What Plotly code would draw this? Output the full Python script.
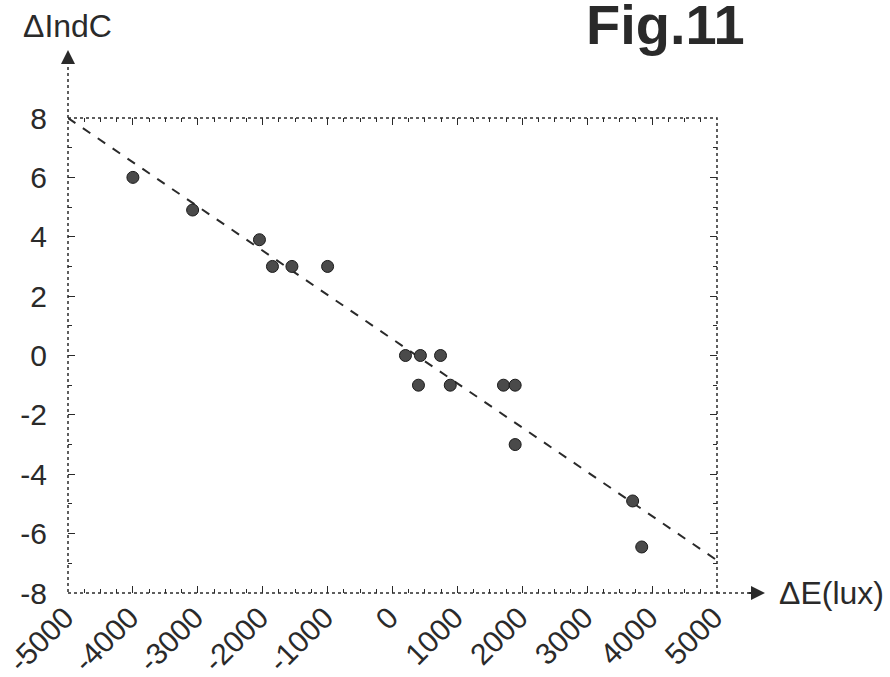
import plotly.graph_objects as go

# ---- data ----
delta_e = [-4000, -3080, -2050, -1850, -1550, -1000, 200, 430, 400, 740, 890,
           1710, 1890, 1890, 3700, 3840]
delta_indc = [6.0, 4.9, 3.9, 3.0, 3.0, 3.0, 0.0, 0.0, -1.0, 0.0, -1.0,
              -1.0, -1.0, -3.0, -4.9, -6.45]
fit_x = [-5000, 5000]
fit_y = [8.0, -6.9]

x_tickvals = [-5000, -4000, -3000, -2000, -1000, 0, 1000, 2000, 3000, 4000, 5000]
x_ticktext = ["-5000", "-4000", "-3000", "-2000", "-1000", "0", "1000", "2000",
              "3000", "4000", "5000"]
y_tickvals = [8, 6, 4, 2, 0, -2, -4, -6, -8]
y_ticktext = ["8", "6", "4", "2", "0", "-2", "-4", "-6", "-8"]

INK = "#2a2a2a"
FONT = "Liberation Sans, Arial, sans-serif"

fig = go.Figure()
fig.add_trace(go.Scatter(x=fit_x, y=fit_y, mode="lines",
                         line=dict(color=INK, width=2, dash="dash"),
                         showlegend=False, hoverinfo="skip"))
fig.add_trace(go.Scatter(x=delta_e, y=delta_indc, mode="markers",
                         marker=dict(size=12, color="#4a4a4a",
                                     line=dict(color="#1a1a1a", width=1)),
                         showlegend=False))

fig.update_layout(
    width=890, height=677,
    margin=dict(l=68, r=173, t=118, b=84, autoexpand=False),
    paper_bgcolor="white", plot_bgcolor="white",
    font=dict(family=FONT, color=INK, size=30),
    xaxis=dict(range=[-5000, 5000], tickmode="array", tickvals=x_tickvals,
               ticktext=x_ticktext, tickangle=-45, ticks="inside", ticklen=7,
               tickcolor=INK, mirror="ticks", showgrid=False, zeroline=False,
               showline=False, ticklabelstandoff=0, ticklabelshift=-3,
               automargin=False, ticklabeloverflow="allow",
               tickfont=dict(size=30, family=FONT, color=INK),
               minor=dict(dtick=250, tick0=0, ticks="inside", ticklen=4,
                          tickcolor=INK, showgrid=False)),
    yaxis=dict(range=[-8, 8], tickmode="array", tickvals=y_tickvals,
               ticktext=y_ticktext, ticks="inside", ticklen=7, tickcolor=INK,
               mirror="ticks", showgrid=False, zeroline=False, showline=False,
               ticklabelstandoff=20, automargin=False, ticklabeloverflow="allow",
               tickfont=dict(size=30, family=FONT, color=INK),
               minor=dict(dtick=1, tick0=0, ticks="inside", ticklen=4,
                          tickcolor=INK, showgrid=False)),
)

# dotted frame
fig.add_shape(type="rect", xref="paper", yref="paper", x0=0, y0=0, x1=1, y1=1,
              line=dict(color=INK, width=1.5, dash="dot"), layer="above")
# axis extensions (dotted) toward arrowheads
fig.add_shape(type="line", xref="paper", yref="paper", x0=0, y0=1, x1=0, y1=1.115,
              line=dict(color=INK, width=1.5, dash="dot"))
fig.add_shape(type="line", xref="paper", yref="paper", x0=1, y0=0, x1=1.05, y1=0,
              line=dict(color=INK, width=1.5, dash="dot"))

# arrowheads
fig.add_annotation(xref="paper", yref="paper", x=0, y=1.143, text=" ",
                   showarrow=True, ax=0, ay=22, axref="pixel", ayref="pixel",
                   arrowhead=2, arrowsize=1.4, arrowwidth=2, arrowcolor=INK,
                   standoff=0, startstandoff=0)
fig.add_annotation(xref="paper", yref="paper", x=1.074, y=0, text=" ",
                   showarrow=True, ax=-22, ay=0, axref="pixel", ayref="pixel",
                   arrowhead=2, arrowsize=1.4, arrowwidth=2, arrowcolor=INK,
                   standoff=0, startstandoff=0)

# axis titles
fig.add_annotation(xref="paper", yref="paper", x=-0.0015, y=1.194, text="ΔIndC",
                   showarrow=False, xanchor="center", yanchor="middle",
                   font=dict(size=32, family=FONT, color=INK))
fig.add_annotation(xref="paper", yref="paper", x=1.092, y=0, text="ΔE(lux)",
                   showarrow=False, xanchor="left", yanchor="middle",
                   font=dict(size=32, family=FONT, color=INK))
# figure label
fig.add_annotation(xref="paper", yref="paper", x=0.92, y=1.196, text="<b>Fig.11</b>",
                   showarrow=False, xanchor="center", yanchor="middle",
                   font=dict(size=56, family=FONT, color=INK))

# remove the browser's default 8px body margin so the figure sits at (0,0)
fig.write_html("out.html",
               config={"displayModeBar": False},
               post_script="document.body.style.margin='0';"
                           "document.body.style.overflow='hidden';")
